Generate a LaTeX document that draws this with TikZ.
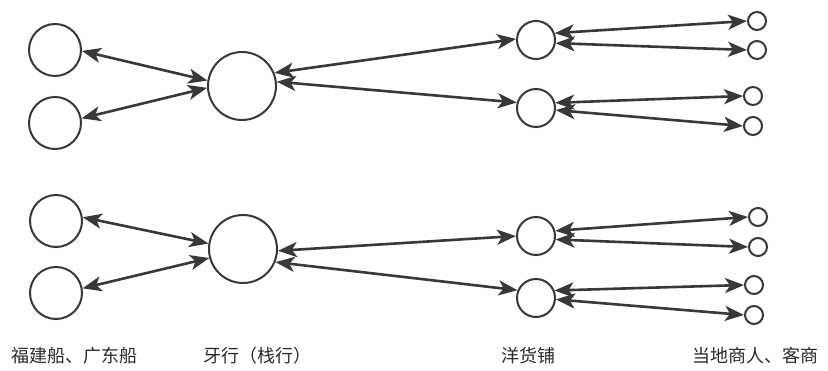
\documentclass[tikz,border=0pt]{standalone}
\usepackage{fontspec}
\newfontfamily\cjk{Noto Sans CJK SC}
\usetikzlibrary{arrows.meta}
\definecolor{linec}{HTML}{383838}
\definecolor{textc}{HTML}{2A2A2A}
\begin{document}
\begin{tikzpicture}[x=1pt,y=-1pt,
  ring/.style={circle,draw=linec,line width=2pt,inner sep=0pt,minimum size=#1},
  tip/.tip={Stealth[length=19pt,width=15pt,inset=5pt]},
  link/.style={draw=linec,line width=2.6pt,tip-tip},
  lab/.style={font=\cjk\fontsize{18}{20}\selectfont,text=textc}]
\useasboundingbox[fill=white] (0,0) rectangle (828,371);
% left ships
\node[ring=52pt] (L1) at (55,50) {};
\node[ring=52pt] (L2) at (55,123) {};
\node[ring=52pt] (L3) at (56,221) {};
\node[ring=52pt] (L4) at (56,293) {};
% brokers
\node[ring=68pt] (B1) at (242,86) {};
\node[ring=68pt] (B2) at (243,249) {};
% shops
\node[ring=38pt] (M1) at (536,40) {};
\node[ring=38pt] (M2) at (536,108) {};
\node[ring=38pt] (M3) at (536,236) {};
\node[ring=38pt] (M4) at (536,298) {};
% merchants
\node[ring=18pt] (S1) at (757,21) {};
\node[ring=18pt] (S2) at (757,50) {};
\node[ring=18pt] (S3) at (753,96) {};
\node[ring=18pt] (S4) at (753,126) {};
\node[ring=18pt] (S5) at (758,217) {};
\node[ring=18pt] (S6) at (758,247) {};
\node[ring=18pt] (S7) at (754,285) {};
\node[ring=18pt] (S8) at (754,315) {};
% top group
\draw[link] (L1.-2) -- (B1.171);
\draw[link] (L2.10) -- (B1.183);
\draw[link] (B1.22) -- (M1.177);
\draw[link] (B1.7) -- (M2.164);
\draw[link] (M1.20) -- (S1.west);
\draw[link] (M1.-9) -- (S2.west);
\draw[link] (M2.15) -- (S3.west);
\draw[link] (M2.-6) -- (S4.west);
% bottom group
\draw[link] (L3.8) -- (B2.171);
\draw[link] (L4.10) -- (B2.195);
\draw[link] (B2.-3) -- (M3.west);
\draw[link] (B2.-22) -- (M4.157);
\draw[link] (M3.15) -- (S5.west);
\draw[link] (M3.-10) -- (S6.west);
\draw[link] (M4.22) -- (S7.west);
\draw[link] (M4.-4) -- (S8.west);
% labels
\node[lab] (t1) at (75,356) {福建船、广东船};
\node[lab] (t2) at (257,356) {牙行（栈行）};
\node[lab] (t3) at (528,356) {洋货铺};
\node[lab] (t4) at (755,356) {当地商人、客商};
\end{tikzpicture}
\end{document}
